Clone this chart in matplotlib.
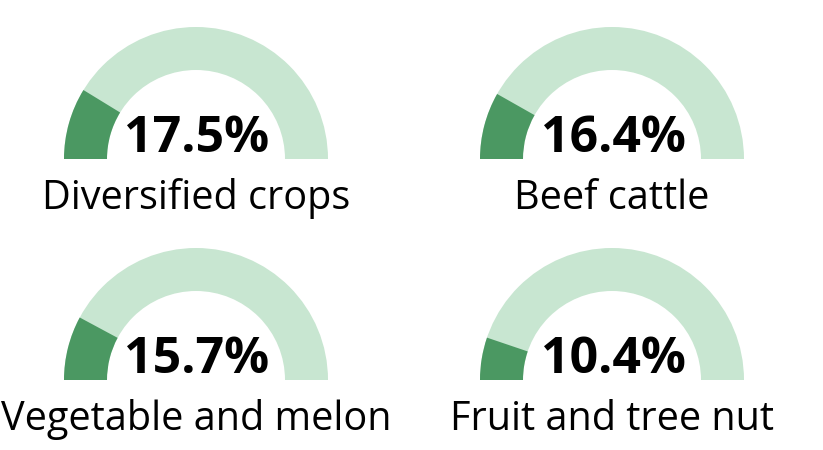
#!/usr/bin/env python

from matplotlib import pyplot as plt
from matplotlib.patches import Wedge

labels = ['Diversified crops', 'Beef cattle', 'Vegetable and melon', 'Fruit and tree nut']
values = [17.5, 16.4, 15.7, 10.4]
gauge_max = 100.0

dark_green = '#4b9862'
light_green = '#c8e6d1'

# gauge centres in pixel coordinates (x, baseline y)
centers = [(196, 159), (612, 159), (196, 380), (612, 380)]
R_out, R_in = 132, 89

fig = plt.figure(figsize=(8.23, 4.5), dpi=100)
ax = fig.add_axes([0, 0, 1, 1])
ax.set_xlim(0, 823)
ax.set_ylim(450, 0)
ax.set_aspect('equal')
ax.axis('off')

for (cx, cy), lab, val in zip(centers, labels, values):
    # y axis is inverted, so angles run clockwise on screen
    ax.add_patch(Wedge((cx, cy), R_out, 180, 360, width=R_out - R_in,
                       facecolor=light_green, edgecolor='none'))
    ax.add_patch(Wedge((cx, cy), R_out, 180, 180 + 180 * val / gauge_max,
                       width=R_out - R_in, facecolor=dark_green, edgecolor='none'))
    ax.text(cx + 1, cy - 7, f'{val:.1f}%', ha='center', va='baseline',
            fontsize=36, fontweight='bold', family='Open Sans', color='black')
    ax.text(cx, cy + 50, lab, ha='center', va='baseline',
            fontsize=28.5, family='Open Sans', color='black')

plt.savefig('out.png', dpi=100)
